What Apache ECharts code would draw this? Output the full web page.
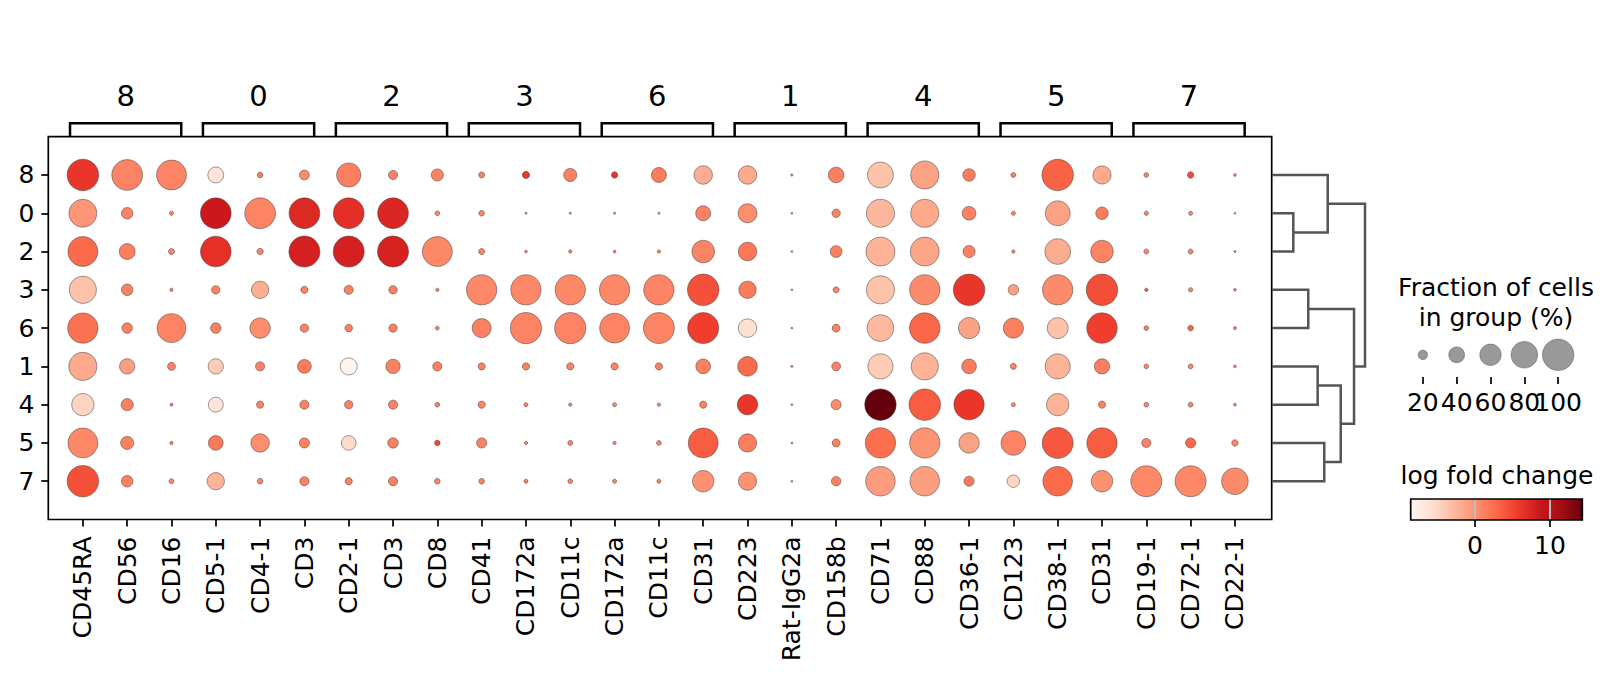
<!DOCTYPE html>
<html><head><meta charset="utf-8">
<script src="https://cdn.jsdelivr.net/npm/echarts@6/dist/echarts.min.js"></script>
<style>html,body{margin:0;padding:0;background:#fff}#c{width:1613px;height:681px}</style>
</head><body><div id="c"></div>
<script>
// ---------- data ----------
const genes = ['CD45RA','CD56','CD16','CD5-1','CD4-1','CD3','CD2-1','CD3','CD8','CD41','CD172a','CD11c','CD172a','CD11c','CD31','CD223','Rat-IgG2a','CD158b','CD71','CD88','CD36-1','CD123','CD38-1','CD31','CD19-1','CD72-1','CD22-1'];
const groupOrder = ['8','0','2','3','6','1','4','5','7'];
const bracketLabels = ['8','0','2','3','6','1','4','5','7'];
const bracketStart = [0,3,6,9,12,15,18,21,24];
const bracketEnd   = [2,5,8,11,14,17,20,23,26];

// fraction of cells in group (%) per row (display order)
const frac_8 = [100,97,93,40,10,21,70,19,28,11,14,31,12,37,49,49,3,39,77,86,29,8.5,100,48,8,12,4];
const frac_0 = [85,26,6.5,97,97,97,97,97,8,10,2.5,2.5,3,2.5,37,51,2,17,86,86,33,6.5,73,29,7,6.5,2];
const frac_2 = [93,40,11,96,12,98,98,98,93,11,4,5,4,5,64,49,2,27,89,89,28,5,76,64,8.5,8.5,2.5];
const frac_3 = [82,26,5,17,45,14,19,17,5,95,95,95,95,95,100,45,2,11,86,95,100,23,95,100,5,7,4];
const frac_6 = [95,23,89,23,56,17,15,17,6,51,99,99,93,98,98,49,2,16,80,96,59,55,58,96,8,10,4.5];
const frac_1 = [86,38,16,38,19,33,44,35,19,14,14,14,14,14,36,53,3,18,74,82,36,11,74,38,8,8.5,4];
const frac_4 = [63,28,4.5,37,14,19,17,19,8,14,6.5,5,6.5,5,14,56,2,22,100,100,95,6.5,63,14,8,8.5,4];
const frac_5 = [93,31,5,36,49,22,36,23,10,22,5,8.5,5,8,93,48,2,16,95,95,56,72,98,95,19,22,12];
const frac_7 = [100,26,8.5,45,10,19,14,19,10,10,6.5,8,6.5,6.5,60,48,2,20,92,92,22,29,92,60,98,98,80];

// log fold change per row (display order)
const lfc_8 = [6.1,1.0,1.0,-6.2,1.5,0.5,1.4,1.2,1.0,1.2,6.0,1.2,6.3,1.5,-1.8,-1.6,1.0,1.4,-3.4,-1.1,1.5,1.0,3.3,-1.6,1.2,4.6,1.0];
const lfc_0 = [-0.3,1.0,1.0,8.55,1.0,7.2,6.7,7.4,1.0,1.0,1.0,1.0,1.0,1.0,1.2,0.4,1.0,1.0,-2.5,-1.6,1.2,1.0,-1.1,1.5,1.0,1.0,1.0];
const lfc_2 = [2.8,1.4,1.0,6.6,1.0,7.9,7.9,7.8,0.7,1.0,1.0,1.0,1.0,1.0,1.0,1.8,1.0,1.2,-2.3,-1.3,1.2,1.0,-1.8,1.0,1.0,1.0,1.0];
const lfc_3 = [-3.4,1.2,1.0,1.2,-2.0,1.2,1.2,1.2,1.0,0.7,0.7,0.7,0.7,1.0,4.4,1.6,1.0,1.0,-3.4,0.5,6.1,-1.1,0.5,4.6,4.0,1.0,1.0];
const lfc_6 = [2.3,1.2,1.0,1.2,0.3,1.2,1.2,1.2,1.0,1.2,1.0,1.0,1.0,1.0,5.6,-5.7,1.0,1.2,-2.7,3.1,-1.1,1.4,-3.4,5.6,1.2,3.0,1.0];
const lfc_1 = [-1.6,-0.9,1.2,-4.1,1.2,1.5,-8.4,1.2,1.2,1.2,1.2,1.2,1.2,1.2,1.2,2.8,1.0,1.2,-4.1,-2.3,1.5,1.0,-2.3,1.4,1.0,1.0,1.0];
const lfc_4 = [-4.8,1.4,1.0,-6.4,1.2,1.2,1.2,1.2,1.0,1.0,1.0,1.0,1.0,1.0,1.2,6.1,1.0,0.3,14.3,3.7,6.1,1.0,-2.3,1.2,1.0,1.0,1.0];
const lfc_5 = [0.7,1.2,1.0,1.75,0.3,1.2,-5.25,1.2,5.0,1.2,1.0,1.0,1.0,1.0,3.7,1.5,1.0,1.2,2.6,-0.1,-1.1,1.0,4.0,3.7,1.2,3.0,1.0];
const lfc_7 = [4.4,1.2,1.0,-2.3,1.0,1.2,1.2,1.2,1.0,1.0,1.0,1.0,1.0,1.0,0.0,0.0,1.0,1.2,-0.65,-0.9,1.75,-4.8,2.8,0.0,0.7,0.7,0.5];

const fracRows = [frac_8,frac_0,frac_2,frac_3,frac_6,frac_1,frac_4,frac_5,frac_7];
const lfcRows  = [lfc_8,lfc_0,lfc_2,lfc_3,lfc_6,lfc_1,lfc_4,lfc_5,lfc_7];

// dendrogram linkage: [childA, childB, height]; leaves 0..8 = row positions
const dendroLinks = [[1,2,0.229],[3,4,0.390],[5,6,0.491],[7,8,0.562],[0,9,0.599],[11,12,0.739],[10,14,0.882],[13,15,1.0]];

const sizeLegendValues = [20,40,60,80,100];
const colorbarTicks = [0,10];
const lfcMin = -8.57, lfcMax = 14.31;

// ---------- styling helpers ----------
const reds = ['#fff5f0','#fee0d2','#fcbba1','#fc9272','#fb6a4a','#ef3b2c','#cb181d','#a50f15','#67000d'];
const FONT = 'DejaVu Sans';
const sizeFor = f => Math.max(1.2, 31.5 * Math.pow(f/100, 0.75));

const dotData = [];
fracRows.forEach((row, r) => row.forEach((f, c) => dotData.push([c, r, lfcRows[r][c], f])));

const nodeY = groupOrder.map((g,i)=>i);
const nodeH = groupOrder.map(()=>0);
dendroLinks.forEach(([a,b,h]) => { nodeY.push((nodeY[a]+nodeY[b])/2); nodeH.push(h); });

const G = {left:48.3, top:136.7, width:1223.4, height:382.8};
const XMIN = -0.78, XMAX = 26.83;
const noLine = {show:false, onZero:false};

const chart = echarts.init(document.getElementById('c'), null, {renderer:'svg'});
chart.setOption({
  animation:false,
  backgroundColor:'#fff',
  textStyle:{fontFamily:FONT},
  grid:[
    {left:G.left, top:G.top, width:G.width, height:G.height, show:true, borderColor:'#000', borderWidth:1.7, containLabel:false},
    {left:G.left, top:80, width:G.width, height:56.7, containLabel:false},
    {left:1272, top:G.top, width:93, height:G.height, containLabel:false},
    {left:1389, top:340, width:203, height:37, containLabel:false},
    {left:1410.7, top:499, width:171.6, height:21, containLabel:false}
  ],
  xAxis:[
    {gridIndex:0, type:'value', position:'bottom', min:XMIN, max:XMAX, splitLine:{show:false}, axisLine:noLine,
     axisTick:{show:true, customValues:genes.map((g,i)=>i), length:7, lineStyle:{color:'#000', width:1.7}},
     axisLabel:{show:true, hideOverlap:false, customValues:genes.map((g,i)=>i), formatter:v=>genes[Math.round(v)], rotate:90, fontSize:25, fontFamily:FONT, color:'#000', margin:17}},
    {gridIndex:1, type:'value', min:XMIN, max:XMAX, show:false, axisLine:noLine},
    {gridIndex:2, type:'value', min:0, max:1, show:false, axisLine:noLine},
    {gridIndex:3, type:'value', position:'bottom', min:0, max:120, splitLine:{show:false}, axisLine:noLine,
     axisTick:{show:true, customValues:sizeLegendValues, length:7, lineStyle:{color:'#000', width:1.7}},
     axisLabel:{show:false}},
    {gridIndex:4, type:'value', position:'bottom', min:lfcMin, max:lfcMax, splitLine:{show:false}, axisLine:noLine,
     axisTick:{show:true, customValues:colorbarTicks, length:7, lineStyle:{color:'#000', width:1.7}},
     axisLabel:{show:true, hideOverlap:false, customValues:colorbarTicks, fontSize:25, fontFamily:FONT, color:'#000', margin:13}}
  ],
  yAxis:[
    {gridIndex:0, type:'value', position:'left', min:-1, max:9, inverse:true, splitLine:{show:false}, axisLine:noLine,
     axisTick:{show:true, customValues:groupOrder.map((g,i)=>i), length:7, lineStyle:{color:'#000', width:1.7}},
     axisLabel:{show:true, hideOverlap:false, customValues:groupOrder.map((g,i)=>i), formatter:v=>groupOrder[Math.round(v)], fontSize:25, fontFamily:FONT, color:'#000', margin:14}},
    {gridIndex:1, type:'value', min:0, max:1, show:false, axisLine:noLine},
    {gridIndex:2, type:'value', min:-1, max:9, inverse:true, show:false, axisLine:noLine},
    {gridIndex:3, type:'value', min:0, max:1, show:false, axisLine:noLine},
    {gridIndex:4, type:'value', min:0, max:1, show:false, axisLine:noLine}
  ],
  visualMap:{show:false, type:'continuous', seriesIndex:0, dimension:2, min:lfcMin, max:lfcMax, inRange:{color:reds}},
  series:[
    {type:'scatter', xAxisIndex:0, yAxisIndex:0, data:dotData, symbolSize:v=>sizeFor(v[3]),
     itemStyle:{borderColor:'#3a3a3a', borderWidth:0.5, opacity:1}, emphasis:{disabled:true}, z:3},
    {type:'custom', xAxisIndex:1, yAxisIndex:1, silent:true,
     data:bracketLabels.map((b,i)=>[(bracketStart[i]+bracketEnd[i])/2, 0.5]),
     renderItem:(params, api)=>{
       const i = params.dataIndex;
       const l = api.coord([bracketStart[i]-0.29, 0]);
       const r = api.coord([bracketEnd[i]+0.22, 0]);
       const top = api.coord([0, 0.236])[1];
       const ty = api.coord([0, 0.718])[1];
       return {type:'group', children:[
         {type:'polyline', shape:{points:[[l[0],l[1]],[l[0],top],[r[0],top],[r[0],r[1]]]}, style:{stroke:'#000', lineWidth:2.5, fill:null, lineJoin:'miter'}},
         {type:'text', style:{text:bracketLabels[i], x:(l[0]+r[0])/2, y:ty, textAlign:'center', textVerticalAlign:'middle', fontSize:29, fontFamily:FONT, fill:'#000'}}
       ]};
     }},
    {type:'custom', xAxisIndex:2, yAxisIndex:2, silent:true,
     data:dendroLinks.map(l=>[l[2], 0]),
     renderItem:(params, api)=>{
       const [a,b,h] = dendroLinks[params.dataIndex];
       const pts = [api.coord([nodeH[a], nodeY[a]]), api.coord([h, nodeY[a]]), api.coord([h, nodeY[b]]), api.coord([nodeH[b], nodeY[b]])];
       return {type:'polyline', shape:{points:pts}, style:{stroke:'#555', lineWidth:2.5, fill:null, lineJoin:'miter'}};
     }},
    {type:'scatter', xAxisIndex:3, yAxisIndex:3, data:sizeLegendValues.map(v=>[v,0.6]), symbolSize:v=>sizeFor(v[0]),
     itemStyle:{color:'#808080', borderColor:'#3a3a3a', borderWidth:0.5}, emphasis:{disabled:true}, silent:true},
    {type:'custom', xAxisIndex:3, yAxisIndex:3, silent:true, data:sizeLegendValues.map(v=>[v,0]),
     renderItem:(params, api)=>{
       const v = sizeLegendValues[params.dataIndex];
       const p = api.coord([v, 0]);
       return {type:'text', style:{text:String(v), x:p[0], y:p[1]+25, textAlign:'center', textVerticalAlign:'middle', fontSize:25, fontFamily:FONT, fill:'#000'}};
     }},
    {type:'custom', xAxisIndex:4, yAxisIndex:4, silent:true, data:[[0,0.5]],
     renderItem:(params, api)=>{
       const p0 = api.coord([lfcMin, 1]);
       const p1 = api.coord([lfcMax, 0]);
       const children = [
         {type:'rect', shape:{x:p0[0], y:p0[1], width:p1[0]-p0[0], height:p1[1]-p0[1]},
          style:{fill:new echarts.graphic.LinearGradient(0,0,1,0, reds.map((c,i)=>({offset:i/(reds.length-1), color:c}))), stroke:null}}
       ];
       colorbarTicks.forEach(t=>{
         const x = api.coord([t, 0])[0];
         children.push({type:'line', shape:{x1:x, y1:p0[1], x2:x, y2:p1[1]}, style:{stroke:'#bdbdbd', lineWidth:2}});
       });
       children.push({type:'rect', shape:{x:p0[0], y:p0[1], width:p1[0]-p0[0], height:p1[1]-p0[1]}, style:{fill:null, stroke:'#000', lineWidth:1.7}});
       return {type:'group', children};
     }}
  ],
  graphic:[
    {type:'text', x:1496, y:302, style:{text:'Fraction of cells\nin group (%)', textAlign:'center', textVerticalAlign:'middle', fontSize:25, fontFamily:FONT, lineHeight:30, fill:'#000'}},
    {type:'text', x:1497, y:475, style:{text:'log fold change', textAlign:'center', textVerticalAlign:'middle', fontSize:25, fontFamily:FONT, fill:'#000'}}
  ]
});
</script></body></html>
